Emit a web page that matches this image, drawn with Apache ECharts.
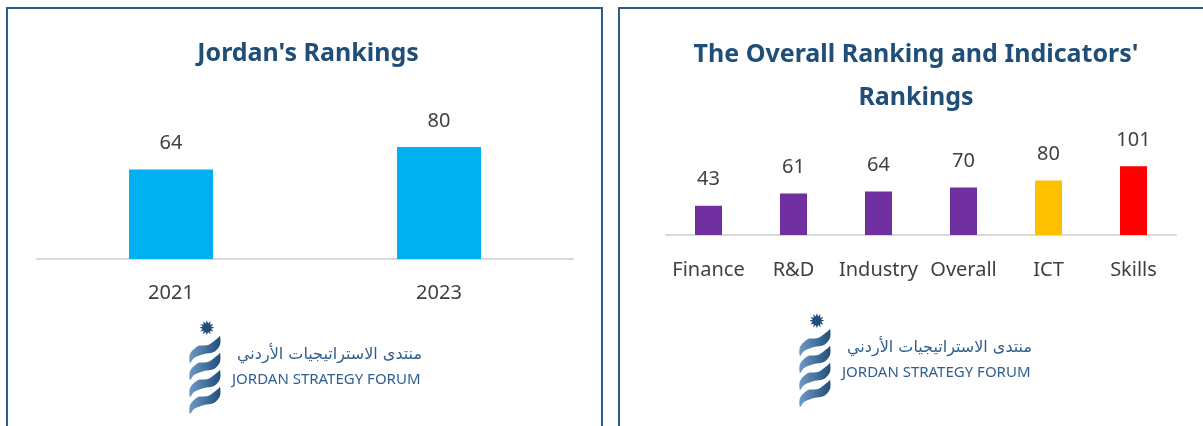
<!DOCTYPE html>
<html>
<head>
<meta charset="utf-8">
<script src="https://cdn.jsdelivr.net/npm/echarts@6/dist/echarts.min.js"></script>
<style>
  html, body { margin: 0; padding: 0; background: #fff; }
  #chart { width: 1203px; height: 426px; }
</style>
</head>
<body>
<div id="chart"></div>
<script>
// 左图：约旦排名
const years = ['2021', '2023'];
const yearRanks = [64, 80];

// 右图：总体排名与各指标排名
const indicators = ['Finance', 'R&D', 'Industry', 'Overall', 'ICT', 'Skills'];
const indicatorRanks = [43, 61, 64, 70, 80, 101];
const indicatorColors = ['#7030A0', '#7030A0', '#7030A0', '#7030A0', '#FFC000', '#FF0000'];

const textColor = '#404040';
const titleColor = '#1F4E79';
const borderColor = '#2E5C8A';

// logo（徽标）
function logo(x, y) {
  const bands = [0, 17, 34, 51].map((dy) => ({
    type: 'polygon',
    x: 0,
    y: dy + 14,
    shape: {
      points: [[0, 18], [8, 10], [18, 9], [28, 2], [30, 0], [30, 9], [24, 16], [14, 18], [4, 22], [0, 27]],
      smooth: 0.3,
    },
    style: {
      fill: new echarts.graphic.LinearGradient(0, 0, 1, 0, [
        { offset: 0, color: '#6E9AC6' },
        { offset: 1, color: '#1F4E79' },
      ]),
    },
  }));
  return {
    type: 'group',
    x: x,
    y: y,
    children: [
      {
        type: 'text',
        x: 17,
        y: 8,
        style: { text: '✹', font: '20px "DejaVu Sans"', fill: '#1F4E79', align: 'center', verticalAlign: 'middle' },
      },
      ...bands,
      {
        type: 'text',
        x: 232,
        y: 33,
        style: { text: 'منتدى الاستراتيجيات الأردني', font: '16px "DejaVu Sans"', fill: '#2F5F8F', align: 'right', verticalAlign: 'middle' },
      },
      {
        type: 'text',
        x: 42,
        y: 58,
        style: { text: 'JORDAN STRATEGY FORUM', font: '15px "Noto Sans"', fill: '#2F5F8F', align: 'left', verticalAlign: 'middle' },
      },
    ],
  };
}

const chart = echarts.init(document.getElementById('chart'));
chart.setOption({
  animation: false,
  textStyle: { fontFamily: '"Noto Sans", sans-serif' },
  title: [
    {
      text: "Jordan's Rankings",
      left: 303,
      top: 36,
      textAlign: 'center',
      textStyle: { color: titleColor, fontSize: 25, fontWeight: 'bold' },
    },
    {
      text: "The Overall Ranking and Indicators'\nRankings",
      left: 911,
      top: 28,
      textAlign: 'center',
      textStyle: { color: titleColor, fontSize: 25, fontWeight: 'bold', lineHeight: 43 },
    },
  ],
  graphic: [
    {
      type: 'rect',
      shape: { x: 7, y: 8, width: 595, height: 430 },
      style: { fill: 'none', stroke: borderColor, lineWidth: 2 },
    },
    {
      type: 'rect',
      shape: { x: 619, y: 8, width: 600, height: 430 },
      style: { fill: 'none', stroke: borderColor, lineWidth: 2 },
    },
    logo(190, 322),
    logo(800, 315),
  ],
  grid: [
    { left: 37, width: 536, top: 119, height: 140 },
    { left: 666, width: 510, top: 133, height: 102 },
  ],
  xAxis: [
    {
      gridIndex: 0,
      type: 'category',
      data: years,
      axisLine: { lineStyle: { color: '#D9D9D9', width: 2 } },
      axisTick: { show: false },
      axisLabel: { color: textColor, fontSize: 20, margin: 24 },
    },
    {
      gridIndex: 1,
      type: 'category',
      data: indicators,
      axisLine: { lineStyle: { color: '#D9D9D9', width: 2 } },
      axisTick: { show: false },
      axisLabel: { color: textColor, fontSize: 20, margin: 25, interval: 0 },
    },
  ],
  yAxis: [
    { gridIndex: 0, type: 'value', min: 0, max: 100, show: false, splitLine: { show: false } },
    { gridIndex: 1, type: 'value', min: 0, max: 150, show: false, splitLine: { show: false } },
  ],
  series: [
    {
      type: 'bar',
      xAxisIndex: 0,
      yAxisIndex: 0,
      data: yearRanks,
      barWidth: 84,
      itemStyle: { color: '#00B0F0' },
      label: { show: true, position: 'top', distance: 16, color: textColor, fontSize: 20 },
    },
    {
      type: 'bar',
      xAxisIndex: 1,
      yAxisIndex: 1,
      data: indicatorRanks.map((v, i) => ({ value: v, itemStyle: { color: indicatorColors[i] } })),
      barWidth: 27,
      label: { show: true, position: 'top', distance: 16, color: textColor, fontSize: 20 },
    },
  ],
});
</script>
</body>
</html>
